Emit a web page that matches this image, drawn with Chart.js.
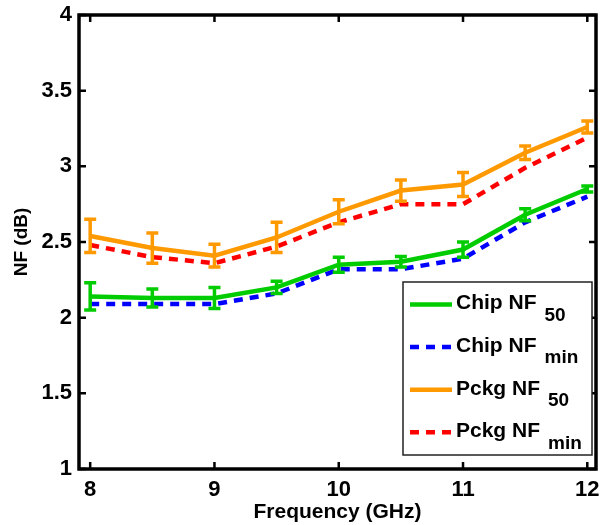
<!DOCTYPE html>
<html>
<head>
<meta charset="utf-8">
<script src="https://cdn.jsdelivr.net/npm/chart.js@4/dist/chart.umd.min.js"></script>
<style>
html,body{margin:0;padding:0;background:#fff;}
#wrap{width:600px;height:525px;}
</style>
</head>
<body>
<div id="wrap"><canvas id="c" width="600" height="525"></canvas></div>
<script>
// ---- data ----
const freqs = [8, 8.5, 9, 9.5, 10, 10.5, 11, 11.5, 12];
const chipNF50 = [2.14, 2.13, 2.13, 2.20, 2.35, 2.37, 2.45, 2.68, 2.85];
const chipNF50Err = [0.09, 0.06, 0.07, 0.04, 0.05, 0.035, 0.05, 0.04, 0.02];
const chipNFmin = [2.09, 2.09, 2.09, 2.16, 2.32, 2.32, 2.39, 2.63, 2.80];
const pckgNF50 = [2.54, 2.46, 2.41, 2.53, 2.70, 2.84, 2.88, 3.09, 3.26];
const pckgNF50Err = [0.11, 0.10, 0.075, 0.10, 0.08, 0.07, 0.08, 0.045, 0.04];
const pckgNFmin = [2.48, 2.40, 2.36, 2.47, 2.63, 2.75, 2.75, 2.99, 3.19];
const xTicks = [8, 9, 10, 11, 12];
const yTicks = [1, 1.5, 2, 2.5, 3, 3.5, 4];
const legendMain = ['Chip NF', 'Chip NF', 'Pckg NF', 'Pckg NF'];
const legendSub = ['50', 'min', '50', 'min'];

const GREEN = '#00cc00', BLUE = '#0000ff', ORANGE = '#ff9900', RED = '#ff0000';
const FONT = "Arial, 'Liberation Sans', Helvetica, sans-serif";
Chart.defaults.font.family = FONT;

const pts = arr => arr.map((v, i) => ({x: freqs[i], y: v}));

const datasets = [
  {label: 'Chip NF50', data: pts(chipNF50), errors: chipNF50Err, borderColor: GREEN, borderWidth: 4.5, pointRadius: 0, fill: false, tension: 0},
  {label: 'Pckg NF50', data: pts(pckgNF50), errors: pckgNF50Err, borderColor: ORANGE, borderWidth: 4.5, pointRadius: 0, fill: false, tension: 0},
  {label: 'Chip NFmin', data: pts(chipNFmin), borderColor: BLUE, borderWidth: 4.5, borderDash: [9, 7], pointRadius: 0, fill: false, tension: 0},
  {label: 'Pckg NFmin', data: pts(pckgNFmin), borderColor: RED, borderWidth: 4.5, borderDash: [9, 7], pointRadius: 0, fill: false, tension: 0}
];
const legendColors = [GREEN, BLUE, ORANGE, RED];
const legendDash = [[], [9, 7], [], [9, 7]];

const errPlugin = {
  id: 'errbars',
  afterDatasetDraw(chart, args) {
    const ds = chart.data.datasets[args.index];
    if (!ds.errors) return;
    const {ctx, scales: {x, y}} = chart;
    ctx.save();
    ctx.strokeStyle = ds.borderColor;
    ctx.lineWidth = 3.5;
    ctx.setLineDash([]);
    ds.data.forEach((p, i) => {
      const e = ds.errors[i];
      const px = x.getPixelForValue(p.x);
      const y1 = y.getPixelForValue(p.y + e);
      const y2 = y.getPixelForValue(p.y - e);
      ctx.beginPath();
      ctx.moveTo(px, y1); ctx.lineTo(px, y2);
      ctx.moveTo(px - 6, y1); ctx.lineTo(px + 6, y1);
      ctx.moveTo(px - 6, y2); ctx.lineTo(px + 6, y2);
      ctx.stroke();
    });
    ctx.restore();
  }
};

const framePlugin = {
  id: 'frame',
  afterDatasetsDraw(chart) {
    const {ctx, chartArea: a, scales: {x, y}} = chart;
    ctx.save();
    ctx.setLineDash([]);
    ctx.strokeStyle = '#000';
    ctx.lineWidth = 2.5;
    ctx.beginPath();
    xTicks.forEach(v => {
      const px = x.getPixelForValue(v);
      ctx.moveTo(px, a.bottom); ctx.lineTo(px, a.bottom - 7);
      ctx.moveTo(px, a.top); ctx.lineTo(px, a.top + 7);
    });
    yTicks.forEach(v => {
      const py = y.getPixelForValue(v);
      ctx.moveTo(a.left, py); ctx.lineTo(a.left + 7, py);
      ctx.moveTo(a.right, py); ctx.lineTo(a.right - 7, py);
    });
    ctx.stroke();
    ctx.lineWidth = 3.5;
    ctx.strokeRect(a.left, a.top, a.right - a.left, a.bottom - a.top);

    // legend
    const bx = a.right - 193, by = a.bottom - 187, bw = 189, bh = 173;
    ctx.fillStyle = '#fff';
    ctx.fillRect(bx, by, bw, bh);
    ctx.lineWidth = 1.5;
    ctx.strokeStyle = '#222';
    ctx.strokeRect(bx, by, bw, bh);
    for (let i = 0; i < legendMain.length; i++) {
      const ly = by + 22.5 + 42.6 * i;
      ctx.beginPath();
      ctx.strokeStyle = legendColors[i];
      ctx.lineWidth = 4.5;
      ctx.setLineDash(legendDash[i]);
      ctx.moveTo(bx + 7, ly); ctx.lineTo(bx + 49, ly);
      ctx.stroke();
      ctx.setLineDash([]);
      const base = by + 27.3 + 42.6 * i;
      ctx.fillStyle = '#000';
      ctx.textAlign = 'left';
      ctx.textBaseline = 'alphabetic';
      ctx.font = 'bold 21px ' + FONT;
      ctx.fillText(legendMain[i], bx + 53, base);
      const w = ctx.measureText(legendMain[i]).width;
      ctx.font = 'bold 19px ' + FONT;
      ctx.fillText(legendSub[i], bx + 53 + w + 8, base + 11.5);
    }
    ctx.restore();
  }
};

new Chart(document.getElementById('c'), {
  type: 'line',
  data: {datasets},
  options: {
    responsive: false,
    animation: false,
    devicePixelRatio: 1,
    layout: {padding: {top: 15, right: 4, left: 0, bottom: 0}},
    plugins: {legend: {display: false}, tooltip: {enabled: false}},
    scales: {
      x: {
        type: 'linear', min: 7.91, max: 12.07,
        afterBuildTicks: s => { s.ticks = xTicks.map(v => ({value: v})); },
        afterFit: s => { s.height = 56; s.paddingRight = 0; s.paddingLeft = 0; },
        grid: {display: false, drawTicks: false},
        border: {display: false},
        ticks: {color: '#000', font: {size: 22, weight: 'bold'}, padding: 8, maxRotation: 0, autoSkip: false, callback: v => String(v)},
        title: {display: true, text: 'Frequency (GHz)', color: '#000', font: {size: 21, weight: 'bold'}, padding: {top: 0, bottom: 0}}
      },
      y: {
        type: 'linear', min: 1, max: 4,
        afterBuildTicks: s => { s.ticks = yTicks.map(v => ({value: v})); },
        afterFit: s => { s.width = 79; s.paddingTop = 0; s.paddingBottom = 0; },
        grid: {display: false, drawTicks: false},
        border: {display: false},
        ticks: {color: '#000', font: {size: 22, weight: 'bold'}, padding: 7, autoSkip: false, callback: v => String(v)},
        title: {display: true, text: 'NF (dB)', color: '#000', font: {size: 19, weight: 'bold'}, padding: {top: 10, bottom: 0}}
      }
    }
  },
  plugins: [errPlugin, framePlugin]
});
</script>
</body>
</html>
